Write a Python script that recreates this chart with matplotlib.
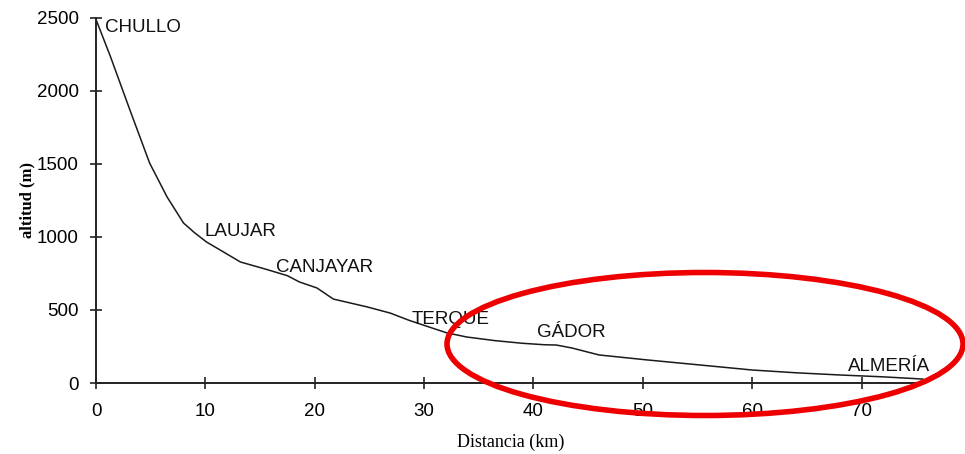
import numpy as np
import matplotlib
matplotlib.use('Agg')
import matplotlib.pyplot as plt
from matplotlib.patches import Ellipse

# perfil longitudinal (km, m)
distancia = [0.0, 1.3, 3.1, 4.9, 6.5, 8.0, 9.0, 10.1, 11.6, 13.2, 15.5, 17.5, 18.6,
             20.2, 21.7, 24.8, 26.9, 28.6, 30.2, 32.0, 33.9, 36.5, 39.0, 41.0, 42.1, 43.5,
             46.0, 50.4, 55.0, 60.0, 64.0, 68.0, 72.0, 75.6]
altitud = [2490, 2240, 1870, 1507, 1274, 1096, 1030, 966, 900, 829, 780, 735, 692,
           651, 575, 521, 479, 430, 390, 345, 315, 290, 272, 262, 260, 240,
           192, 158, 125, 89, 70, 55, 42, 27]

lugares = ['CHULLO', 'LAUJAR', 'CANJAYAR', 'TERQUE', 'GÁDOR', 'ALMERÍA']
lugar_x = [0.8, 9.9, 16.5, 28.9, 40.3, 68.8]
lugar_y = [2380, 980, 735, 380, 285, 55]

xticks = [0, 10, 20, 30, 40, 50, 60, 70]
yticks = [0, 500, 1000, 1500, 2000, 2500]

W, H = 965, 454
fig = plt.figure(figsize=(W / 100, H / 100), dpi=100)
ax = fig.add_axes([96 / W, 1 - 383 / H, 829 / W, 365 / H])

ax.plot(distancia, altitud, color='#1a1a1a', lw=1.1)
ax.set_xlim(0, 75.8)
ax.set_ylim(0, 2500)
ax.set_xticks(xticks)
ax.set_yticks(yticks)

for s in ['top', 'right']:
    ax.spines[s].set_visible(False)
for s in ['left', 'bottom']:
    ax.spines[s].set_color('#222222')
    ax.spines[s].set_linewidth(1.4)
ax.tick_params(direction='inout', length=9, width=1.2, color='#222222',
               labelsize=13.5)
for lab in ax.get_xticklabels() + ax.get_yticklabels():
    lab.set_family('Liberation Sans')
ax.tick_params(axis='x', pad=10)
ax.tick_params(axis='y', pad=8)

for nombre, x, y in zip(lugares, lugar_x, lugar_y):
    ax.text(x, y, nombre, fontsize=13.5, family='Liberation Sans', va='bottom',
            color='#111111')

ax.set_xlabel('Distancia (km)', family='Liberation Serif', fontsize=13, labelpad=10)
ax.set_ylabel('altitud (m)', family='Liberation Serif', fontsize=12, fontweight='bold',
              labelpad=1)

# elipse roja sobreimpuesta (en pixeles de la figura)
over = fig.add_axes([0, 0, 1, 1])
over.set_xlim(0, W)
over.set_ylim(H, 0)
over.axis('off')
over.patch.set_alpha(0)
over.add_patch(Ellipse((705, 344), 516, 143, angle=0, fill=False,
                       edgecolor='#ee0000', lw=4))

fig.savefig('out.png', dpi=100)
